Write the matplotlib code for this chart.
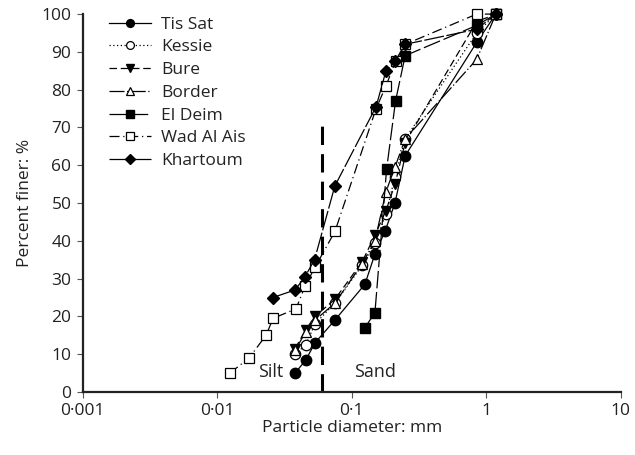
import matplotlib
matplotlib.use("Agg")
import matplotlib.pyplot as plt
from matplotlib.ticker import FixedLocator, NullLocator

plt.rcParams['font.family'] = ['Open Sans', 'DejaVu Sans']

d_common = [0.038, 0.0457, 0.0534, 0.075, 0.12, 0.149, 0.18, 0.21, 0.25, 0.85, 1.18]

tis_d = [0.038, 0.0457, 0.0534, 0.075, 0.1255, 0.149, 0.177, 0.21, 0.25, 0.85, 1.18]
tis_p = [5, 8.5, 13, 19, 28.5, 36.5, 42.5, 50, 62.5, 92.5, 100]

kessie_d = d_common
kessie_p = [10, 12.5, 18, 23.5, 33.5, 39.5, 47, 57, 67, 95, 100]

bure_d = d_common
bure_p = [11.5, 16.5, 20, 24.5, 34.5, 41.5, 48, 55, 66, 98, 100]

border_d = d_common
border_p = [11, 16, 19, 23.5, 34, 40, 53, 59.5, 67, 88, 100]

eldeim_d = [0.1255, 0.149, 0.182, 0.212, 0.25, 0.85, 1.18]
eldeim_p = [17, 21, 59, 77, 89, 97, 100]

wad_d = [0.01245, 0.0173, 0.0231, 0.0261, 0.0386, 0.045, 0.0534, 0.0752, 0.152, 0.18, 0.212, 0.25, 0.85, 1.18]
wad_p = [5, 9, 15, 19.5, 22, 28, 33, 42.5, 75, 81, 87.5, 92, 100, 100]

kh_d = [0.026, 0.038, 0.045, 0.053, 0.075, 0.152, 0.18, 0.21, 0.25, 0.85, 1.18]
kh_p = [25, 27, 30.5, 35, 54.5, 75.5, 85, 87.5, 92, 96, 100]

x_ticks = [0.001, 0.01, 0.1, 1, 10]
x_ticklabels = ['0\u00b7001', '0\u00b701', '0\u00b71', '1', '10']
y_ticks = [0, 10, 20, 30, 40, 50, 60, 70, 80, 90, 100]

fig = plt.figure(figsize=(6.35, 4.55), dpi=100)
ax = fig.add_axes([0.130, 0.1385, 0.8475, 0.8305])

lw = 0.9
ms = 7.5
common = dict(color='black', lw=lw, clip_on=False)
ax.plot(tis_d, tis_p, ls='-', marker='o', ms=ms,
        mfc='black', mec='black', label='Tis Sat', **common)
ax.plot(kessie_d, kessie_p, ls=(0, (1, 2)), marker='o', ms=ms,
        mfc='white', mec='black', mew=0.9, label='Kessie', **common)
ax.plot(bure_d, bure_p, ls=(0, (6, 3)), marker='v', ms=ms,
        mfc='black', mec='black', label='Bure', **common)
ax.plot(border_d, border_p, ls=(0, (12, 2, 1, 2)), marker='^', ms=ms,
        mfc='white', mec='black', mew=0.9, label='Border', **common)
ax.plot(eldeim_d, eldeim_p, ls=(0, (14, 3)), marker='s', ms=ms - 0.5,
        mfc='black', mec='black', label='El Deim', **common)
ax.plot(wad_d, wad_p, ls=(0, (8, 3, 1, 3)), marker='s', ms=ms - 0.5,
        mfc='white', mec='black', mew=0.9, label='Wad Al Ais', **common)
ax.plot(kh_d, kh_p, ls=(0, (16, 2)), marker='D', ms=ms - 1,
        mfc='black', mec='black', label='Khartoum', **common)

ax.plot([0.06, 0.06], [0, 71.5], color='black', lw=2.2, ls=(0, (6, 3)))

ax.text(0.031, 5.3, 'Silt', ha='right', va='center', fontsize=13, color='#222222')
ax.text(0.104, 5.3, 'Sand', ha='left', va='center', fontsize=13, color='#222222')

ax.set_xscale('log')
ax.set_xlim(0.001, 10)
ax.set_ylim(0, 100)
ax.xaxis.set_major_locator(FixedLocator(x_ticks))
ax.xaxis.set_minor_locator(NullLocator())
ax.set_xticklabels(x_ticklabels)
ax.set_yticks(y_ticks)
ax.tick_params(axis='both', direction='out', length=4, width=0.8, color='#555555',
               labelsize=12.5, labelcolor='#222222', pad=4)
for s in ['top', 'right']:
    ax.spines[s].set_visible(False)
for s in ['left', 'bottom']:
    ax.spines[s].set_linewidth(1.6)
    ax.spines[s].set_color('#222222')
ax.set_xlabel('Particle diameter: mm', fontsize=12.5, color='#222222', labelpad=1)
ax.set_ylabel('Percent finer: %', fontsize=12.5, color='#222222', labelpad=6)

leg = ax.legend(loc='upper left', bbox_to_anchor=(0.02, 1.035), frameon=False,
                fontsize=12.5, handlelength=2.4, handletextpad=0.6, labelspacing=0.38,
                markerscale=0.75, labelcolor='#222222')

fig.savefig('out.png', dpi=100)
